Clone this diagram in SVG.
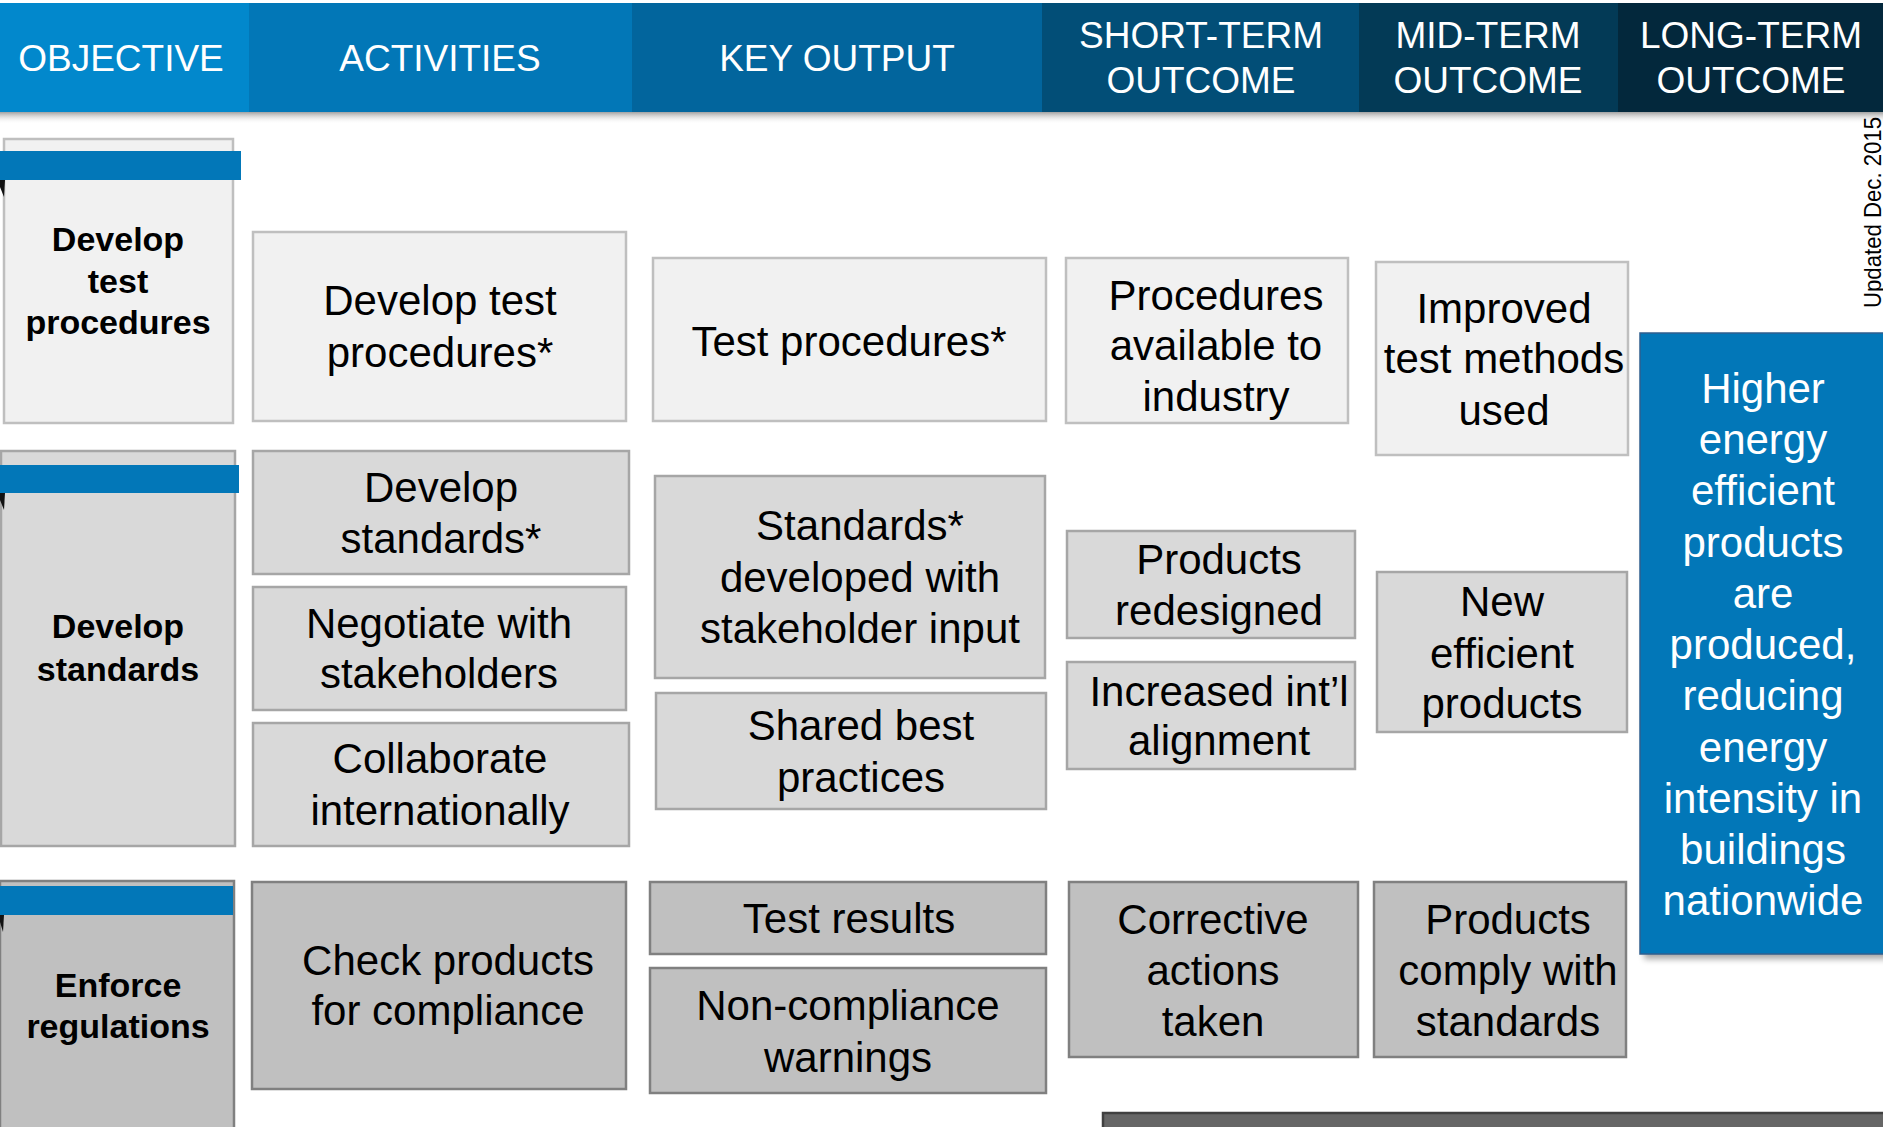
<svg xmlns="http://www.w3.org/2000/svg" width="1883" height="1127" viewBox="0 0 1883 1127">
<defs>
<style>
text{font-family:"Liberation Sans",Arial,sans-serif;text-anchor:middle;fill:#000}
.hd text{fill:#fff;font-size:37px}
.t{font-size:42px}
.b{font-size:34px;font-weight:bold}
.w{fill:#fff;font-size:42px}
.r1{fill:#F1F1F1;stroke:#BFBFBF;stroke-width:2.5}
.r2{fill:#D9D9D9;stroke:#A6A6A6;stroke-width:2.5}
.r3{fill:#C0C0C0;stroke:#808080;stroke-width:2.5}
.bar{fill:#0277B8}
</style>
<linearGradient id="hs" x1="0" y1="0" x2="0" y2="1">
<stop offset="0" stop-color="#8a8a8a" stop-opacity="0.8"/>
<stop offset="1" stop-color="#ffffff" stop-opacity="0"/>
</linearGradient>
<filter id="sh" x="-10%" y="-10%" width="130%" height="130%">
<feGaussianBlur stdDeviation="3"/>
</filter>
</defs>
<rect width="1883" height="1127" fill="#fff"/>

<g id="header" class="hd">
<rect x="0" y="112" width="1883" height="12" fill="url(#hs)"/>
<rect x="0" y="3" width="250" height="109" fill="#0288CC"/>
<rect x="249" y="3" width="384" height="109" fill="#0277B7"/>
<rect x="632" y="3" width="411" height="109" fill="#02659D"/>
<rect x="1042" y="3" width="318" height="109" fill="#024E77"/>
<rect x="1359" y="3" width="260" height="109" fill="#033A56"/>
<rect x="1618" y="3" width="265" height="109" fill="#03283C"/>
<text x="121" y="71">OBJECTIVE</text>
<text x="440" y="71">ACTIVITIES</text>
<text x="837" y="71">KEY OUTPUT</text>
<text x="1201" y="48">SHORT-TERM</text><text x="1201" y="93">OUTCOME</text>
<text x="1488" y="48">MID-TERM</text><text x="1488" y="93">OUTCOME</text>
<text x="1751" y="48">LONG-TERM</text><text x="1751" y="93">OUTCOME</text>
</g>

<text id="updated" transform="translate(1881 308) rotate(-90)" x="0" y="0" style="text-anchor:start;font-size:24px" textLength="191" lengthAdjust="spacingAndGlyphs">Updated Dec. 2015</text>

<g id="connectors"></g>

<g id="obj-test">
<rect class="r1" x="4" y="139" width="229" height="284"/>
<rect class="bar" x="0" y="151" width="241" height="29"/>
<polygon points="0,180 5,180 4,197 0,187" fill="#111"/>
<text class="b" x="118" y="251">Develop</text>
<text class="b" x="118" y="293">test</text>
<text class="b" x="118" y="334">procedures</text>
</g>
<g id="act-test">
<rect class="r1" x="253" y="232" width="373" height="189"/>
<text class="t" x="440" y="315">Develop test</text>
<text class="t" x="440" y="367">procedures*</text>
</g>
<g id="out-test">
<rect class="r1" x="653" y="258" width="393" height="163"/>
<text class="t" x="849" y="356">Test procedures*</text>
</g>
<g id="st-test">
<rect class="r1" x="1066" y="258" width="282" height="165"/>
<text class="t" x="1216" y="310">Procedures</text>
<text class="t" x="1216" y="360">available to</text>
<text class="t" x="1216" y="411">industry</text>
</g>
<g id="mt-test">
<rect class="r1" x="1376" y="262" width="252" height="193"/>
<text class="t" x="1504" y="323">Improved</text>
<text class="t" x="1504" y="373">test methods</text>
<text class="t" x="1504" y="425">used</text>
</g>

<g id="obj-std">
<rect class="r2" x="1" y="451" width="234" height="395"/>
<rect class="bar" x="0" y="465" width="239" height="28"/>
<polygon points="0,493 5,493 4,510 0,500" fill="#111"/>
<text class="b" x="118" y="638">Develop</text>
<text class="b" x="118" y="681">standards</text>
</g>
<g id="act-std">
<rect class="r2" x="253" y="451" width="376" height="123"/>
<text class="t" x="441" y="502">Develop</text>
<text class="t" x="441" y="553">standards*</text>
</g>
<g id="act-neg">
<rect class="r2" x="253" y="587" width="373" height="123"/>
<text class="t" x="439" y="638">Negotiate with</text>
<text class="t" x="439" y="688">stakeholders</text>
</g>
<g id="act-collab">
<rect class="r2" x="253" y="723" width="376" height="123"/>
<text class="t" x="440" y="773">Collaborate</text>
<text class="t" x="440" y="825">internationally</text>
</g>
<g id="out-std">
<rect class="r2" x="655" y="476" width="390" height="202"/>
<text class="t" x="860" y="540">Standards*</text>
<text class="t" x="860" y="592">developed with</text>
<text class="t" x="860" y="643">stakeholder input</text>
</g>
<g id="out-shared">
<rect class="r2" x="656" y="693" width="390" height="116"/>
<text class="t" x="861" y="740">Shared best</text>
<text class="t" x="861" y="792">practices</text>
</g>
<g id="st-redesign">
<rect class="r2" x="1067" y="531" width="288" height="107"/>
<text class="t" x="1219" y="574">Products</text>
<text class="t" x="1219" y="625">redesigned</text>
</g>
<g id="st-intl">
<rect class="r2" x="1067" y="662" width="288" height="107"/>
<text class="t" x="1219" y="706">Increased int’l</text>
<text class="t" x="1219" y="755">alignment</text>
</g>
<g id="mt-new">
<rect class="r2" x="1377" y="572" width="250" height="160"/>
<text class="t" x="1502" y="616">New</text>
<text class="t" x="1502" y="668">efficient</text>
<text class="t" x="1502" y="718">products</text>
</g>

<g id="obj-enf">
<rect class="r3" x="0" y="881" width="234" height="260"/>
<rect class="bar" x="0" y="886" width="233" height="29"/>
<polygon points="0,915 4,915 3,932 0,922" fill="#111"/>
<text class="b" x="118" y="997">Enforce</text>
<text class="b" x="118" y="1038">regulations</text>
</g>
<g id="act-check">
<rect class="r3" x="252" y="882" width="374" height="207"/>
<text class="t" x="448" y="975">Check products</text>
<text class="t" x="448" y="1025">for compliance</text>
</g>
<g id="out-results">
<rect class="r3" x="650" y="882" width="396" height="72"/>
<text class="t" x="849" y="933">Test results</text>
</g>
<g id="out-warn">
<rect class="r3" x="650" y="968" width="396" height="125"/>
<text class="t" x="848" y="1020">Non-compliance</text>
<text class="t" x="848" y="1072">warnings</text>
</g>
<g id="st-corr">
<rect class="r3" x="1069" y="882" width="289" height="175"/>
<text class="t" x="1213" y="934">Corrective</text>
<text class="t" x="1213" y="985">actions</text>
<text class="t" x="1213" y="1036">taken</text>
</g>
<g id="mt-comply">
<rect class="r3" x="1374" y="882" width="252" height="175"/>
<text class="t" x="1508" y="934">Products</text>
<text class="t" x="1508" y="985">comply with</text>
<text class="t" x="1508" y="1036">standards</text>
</g>

<g id="lt-outcome">
<rect x="1644" y="338" width="250" height="621" fill="#000" opacity="0.35" filter="url(#sh)"/>
<rect x="1640" y="333" width="250" height="621" fill="#0277B8" stroke="#2F5F8F" stroke-width="1.5"/>
<text class="w" x="1763" y="403">Higher</text>
<text class="w" x="1763" y="454">energy</text>
<text class="w" x="1763" y="505">efficient</text>
<text class="w" x="1763" y="557">products</text>
<text class="w" x="1763" y="608">are</text>
<text class="w" x="1763" y="659">produced,</text>
<text class="w" x="1763" y="710">reducing</text>
<text class="w" x="1763" y="762">energy</text>
<text class="w" x="1763" y="813">intensity in</text>
<text class="w" x="1763" y="864">buildings</text>
<text class="w" x="1763" y="915">nationwide</text>
</g>

<g id="footer-bar">
<rect x="1103" y="1113" width="800" height="20" fill="#666666" stroke="#404040" stroke-width="2.5"/>
</g>
</svg>
